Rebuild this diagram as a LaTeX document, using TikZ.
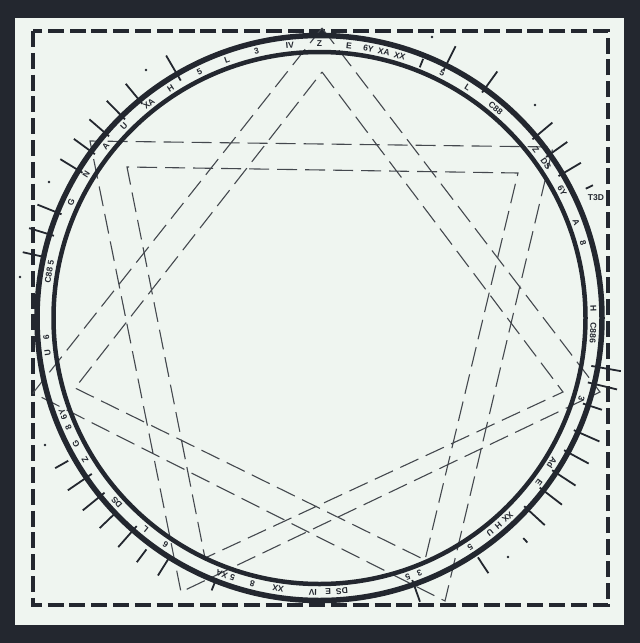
\documentclass[tikz,border=0pt]{standalone}
\usepackage{fontspec}
\setmainfont{Liberation Sans}
\definecolor{frame}{RGB}{35,39,47}
\definecolor{paper}{RGB}{239,245,240}
\definecolor{ink}{RGB}{35,39,47}
\definecolor{starline}{RGB}{68,72,78}

\begin{document}
\begin{tikzpicture}[x=1pt,y=-1pt,
    ring/.style={draw=ink, line width=5.5pt},
    tickline/.style={draw=ink, line width=1.8pt},
    starpath/.style={draw=starline, line width=1.1pt, dash pattern=on 20pt off 8pt},
    lbl/.style={font=\fontsize{8.5}{8.5}\selectfont\bfseries, text=ink, inner sep=0pt}]
    \useasboundingbox (0,0) rectangle (640,643);
    \fill[frame] (0,0) rectangle (640,643);
    \fill[paper] (15,18) rectangle (624,625);
    \draw[ink, line width=4pt, dash pattern=on 16pt off 5.8pt] (33,31) rectangle (608,605);
    % outer star
    \coordinate (a0) at (322,28);
    \coordinate (a1) at (553,147);
    \coordinate (a2) at (600,392);
    \coordinate (a3) at (445,601);
    \coordinate (a4) at (181,592);
    \coordinate (a5) at (33,393);
    \coordinate (a6) at (90,141);
    \draw[starpath] (a0) -- (a2) -- (a4) -- (a6) -- (a1) -- (a3) -- (a5) -- cycle;
    % inner star
    \coordinate (b0) at (322,72);
    \coordinate (b1) at (518,173);
    \coordinate (b2) at (563,392);
    \coordinate (b3) at (425,560);
    \coordinate (b4) at (205,558);
    \coordinate (b5) at (75,388);
    \coordinate (b6) at (127,167);
    \draw[starpath] (b0) -- (b2) -- (b4) -- (b6) -- (b1) -- (b3) -- (b5) -- cycle;
    \begin{scope}[shift={(319.5,318)}]
        \draw[ring] (0,0) circle (282.5);
        \draw[ring, line width=4.5pt] (0,0) circle (266);
        % ticks round the rim
        \foreach \a/\r/\s in {-30.3/275/304, -39.6/278/304, -44.4/278/304, -49.2/278/304,
            -53.9/278/304, -58.5/278/304, -68.1/278/304, -72.8/278/304, -77.5/280/304,
            26.6/277/304, 35.8/278/304, 50/278/304, 54.6/278/304, 59.3/278/304, 64.1/296/304,
            100/276/306, 103.5/276/306, 108/277/297, 113.8/278/306, 118.4/278/306,
            123.2/278/306, 127.6/278/306, 132.6/278/306, 137.2/300/306, 146.5/287/306,
            160.5/278/301, 201.6/280/293, 212.1/285/304, 216.8/289/305, 221.3/277/305,
            226.3/280/304, 230.9/277/305, 235.6/276/305, 240.4/289/304, 21.8/270/279}
            \draw[tickline] ({\a-90}:\r) -- ({\a-90}:\s);
        % labels in the band
        \foreach \a/\t in {0/Z, 6.2/E, 10.3/6Y, 13.6/XA, 17/XX, 26.6/5, 32.7/L, 40/C88,
            52.1/Z, 55.7/DS, 62.3/6Y, 69.5/A, 74.1/8, 87.9/H, 93.1/C886, 107/3, 122/Ad,
            126.8/E, 136.6/XX, 139.2/H, 141.5/U, 146.6/5, 158.6/3, 161.2/5, 175.3/DS,
            178.2/E, 181.4/IV, 188.7/XX, 194.2/8, 198.5/5, 200.9/XA, 214.2/6, 219.5/L,
            227.7/DS, 238.8/Z, 242.7/G, 246.4/8, 249.4/6Y, 262.7/U, 266/6, 279.7/C88 5,
            295/G, 301.6/N, 308.7/A, 314.5/U, 321.5/XA, 327.1/H, 334/5, 340.3/L,
            346.7/3, 353.8/IV}
            \node[lbl, rotate=-\a] at ({\a-90}:274) {\t};
    \end{scope}
    \node[lbl] (t3d) at (596,198) {T3D};
    % specks
    \foreach \p in {(49,182), (20,277), (45,445), (508,557), (535,105), (432,37), (146,70)}
        \fill[ink] \p circle (1.3);
\end{tikzpicture}
\end{document}
